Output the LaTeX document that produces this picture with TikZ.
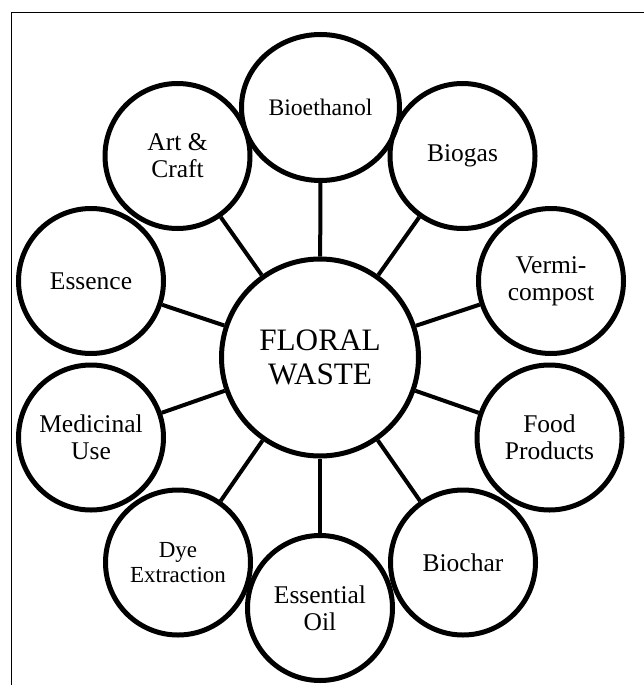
\documentclass[tikz,border=0pt]{standalone}
\usepackage{fontspec}
\setmainfont{Liberation Serif}
\usepackage{tikz}
\usetikzlibrary{shapes.geometric}
\tikzset{
  hub/.style={circle,draw=black,line width=2.5pt,minimum size=98.5pt,inner sep=0pt,align=center,font=\fontsize{15.6}{17.4}\selectfont},
  usebox/.style={circle,draw=black,line width=2.5pt,minimum size=72.5pt,inner sep=0pt,align=center,font=\fontsize{12.75}{13.5}\selectfont},
  wideuse/.style={ellipse,draw=black,line width=2.5pt,minimum width=79pt,minimum height=73pt,inner sep=0pt,align=center,font=\fontsize{11.85}{13}\selectfont},
  spoke/.style={line width=2pt}
}

\begin{document}
\begin{tikzpicture}[x=0.5pt,y=-0.5pt]
  \useasboundingbox (0,0) rectangle (643,685);
  % page frame (only top and left edges show)
  \draw[line width=0.6pt] (11.7,690) -- (11.7,12.3) -- (650,12.3);

  \node[hub] (waste) at (320,357.5) {FLORAL\\WASTE};

  \node[wideuse] (ethanol) at (320.5,107.5) {Bioethanol};
  \node[usebox] (biogas) at (462.5,156) {Biogas};
  \node[usebox] (vermi) at (551,281) {Vermi-\\compost};
  \node[usebox] (food) at (549.5,437.5) {Food\\Products};
  \node[usebox] (biochar) at (463,562.5) {Biochar};
  \node[usebox] (oil) at (320,608) {Essential\\Oil};
  \node[usebox,font=\fontsize{11.5}{12.5}\selectfont] (dye) at (178,562.5) {Dye\\Extraction};
  \node[usebox] (medic) at (91,437.5) {Medicinal\\Use};
  \node[usebox] (essence) at (91,281) {Essence};
  \node[usebox] (art) at (177.5,156) {Art \&\\Craft};

  \draw[spoke] (waste) -- (ethanol);
  \draw[spoke] (waste) -- (biogas);
  \draw[spoke] (waste) -- (vermi);
  \draw[spoke] (waste) -- (food);
  \draw[spoke] (waste) -- (biochar);
  \draw[spoke] (waste) -- (oil);
  \draw[spoke] (waste) -- (dye);
  \draw[spoke] (waste) -- (medic);
  \draw[spoke] (waste) -- (essence);
  \draw[spoke] (waste) -- (art);
\end{tikzpicture}
\end{document}
